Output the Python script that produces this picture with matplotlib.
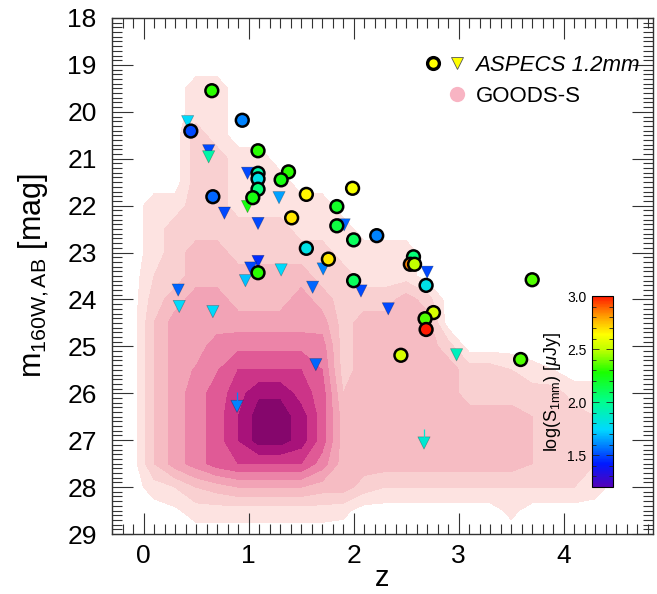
import numpy as np
import matplotlib
matplotlib.use("Agg")
import matplotlib.pyplot as plt
from matplotlib.colors import LinearSegmentedColormap, Normalize
from matplotlib.cm import ScalarMappable
from matplotlib.lines import Line2D
from matplotlib.legend_handler import HandlerTuple
from matplotlib.ticker import MultipleLocator

plt.rcParams["font.family"] = ["Liberation Sans", "DejaVu Sans"]
plt.rcParams["mathtext.fontset"] = "custom"
plt.rcParams["mathtext.rm"] = "Liberation Sans"
plt.rcParams["mathtext.it"] = "Liberation Sans:italic"

# ASPECS 1.2mm detections (circles): redshift, H-band magnitude, log flux [uJy]
det_z = [0.65, 0.45, 0.94, 1.09, 1.38, 1.31, 1.09, 1.09, 1.09, 1.04, 0.66,
         1.55, 1.99, 1.84, 1.84, 2.00, 2.22, 1.41, 1.55, 1.76, 1.09, 2.00,
         2.57, 2.54, 2.58, 2.69, 3.70, 2.76, 2.68, 2.69, 2.45, 3.59]
det_m = [19.55, 20.41, 20.18, 20.83, 21.28, 21.45, 21.31, 21.43, 21.65, 21.83,
         21.81, 21.76, 21.63, 22.02, 22.43, 22.73, 22.64, 22.26, 22.91, 23.14,
         23.43, 23.60, 23.09, 23.25, 23.25, 23.70, 23.58, 24.28, 24.41, 24.64,
         25.19, 25.28]
det_s = [2.30, 1.50, 1.60, 2.30, 2.30, 2.25, 1.95, 1.80, 2.05, 2.25, 1.55,
         2.65, 2.62, 2.20, 2.15, 2.10, 1.60, 2.68, 1.80, 2.68, 2.30, 2.10,
         2.05, 2.85, 2.50, 1.80, 2.35, 2.55, 2.35, 3.00, 2.55, 2.35]

# upper limits (down triangles)
lim_z = [0.42, 0.62, 0.62, 0.99, 1.29, 0.77, 0.99, 1.09, 1.91, 1.09, 1.02,
         0.97, 1.31, 1.71, 1.61, 2.07, 2.33, 0.33, 0.34, 0.66, 2.70, 2.98,
         1.64, 0.89, 2.67]
lim_m = [20.21, 20.83, 20.96, 21.31, 21.83, 22.16, 22.02, 22.38, 22.41, 23.19,
         23.33, 23.60, 23.37, 23.35, 23.74, 23.82, 24.20, 23.80, 24.15, 24.26,
         23.42, 25.18, 25.39, 26.28, 27.06]
lim_s = [1.75, 1.50, 1.95, 1.50, 1.65, 1.50, 2.25, 1.50, 1.55, 1.45, 1.50,
         1.70, 1.75, 1.60, 1.55, 1.50, 1.50, 1.55, 1.75, 1.75, 1.50, 1.90,
         1.55, 1.60, 1.85]
lim_tick = [23, 24]  # triangles drawn with a small bar on top

# GOODS-S density (contour level index) on a z / magnitude grid
grid_z = np.arange(-0.1, 4.75, 0.2)
grid_m = np.arange(19.0, 29.01, 0.5)
density = np.array([
    # c0 .. c24   (z = -0.1 ... 4.7)
    [0, 0, 0, 0, 0, 0, 0, 0, 0, 0, 0, 0, 0, 0, 0, 0, 0, 0, 0, 0, 0, 0, 0, 0, 0],  # 19.0
    [0, 0, 0, 1, 1, 0, 0, 0, 0, 0, 0, 0, 0, 0, 0, 0, 0, 0, 0, 0, 0, 0, 0, 0, 0],  # 19.5
    [0, 0, 0, 1, 1, 0, 0, 0, 0, 0, 0, 0, 0, 0, 0, 0, 0, 0, 0, 0, 0, 0, 0, 0, 0],  # 20.0
    [0, 0, 0, 2, 1, 0, 0, 0, 0, 0, 0, 0, 0, 0, 0, 0, 0, 0, 0, 0, 0, 0, 0, 0, 0],  # 20.5
    [0, 0, 0, 2, 2, 1, 1, 0, 0, 0, 0, 0, 0, 0, 0, 0, 0, 0, 0, 0, 0, 0, 0, 0, 0],  # 21.0
    [0, 0, 0, 2, 2, 1, 1, 1, 0, 0, 0, 0, 0, 0, 0, 0, 0, 0, 0, 0, 0, 0, 0, 0, 0],  # 21.5
    [0, 1, 1, 2, 2, 1, 1, 1, 1, 1, 0, 0, 0, 0, 0, 0, 0, 0, 0, 0, 0, 0, 0, 0, 0],  # 22.0
    [0, 1, 2, 2, 2, 2, 2, 2, 1, 1, 1, 0, 0, 0, 0, 0, 0, 0, 0, 0, 0, 0, 0, 0, 0],  # 22.5
    [0, 1, 2, 3, 3, 2, 2, 2, 2, 2, 1, 1, 1, 1, 0, 0, 0, 0, 0, 0, 0, 0, 0, 0, 0],  # 23.0
    [0, 1.5, 2, 3, 3, 3, 3, 3, 3, 2, 2, 1, 1, 1, 0, 0, 0, 0, 0, 0, 0, 0, 0, 0, 0],  # 23.5
    [0, 2, 3, 4, 4, 3, 3, 3, 4, 3, 2, 2, 2, 3, 2, 0, 0, 0, 0, 0, 0, 0, 0, 0, 0],  # 24.0
    [0, 2.5, 4, 4, 4, 4, 4, 4, 4, 4, 2, 3, 3, 3, 3, 0, 0, 0, 0, 0, 0, 0, 0, 0, 0],  # 24.5
    [0, 2.5, 4, 4, 5, 5.2, 5.2, 5.2, 5.2, 5, 2, 3, 3, 3, 3, 2, 0, 0, 0, 0, 0, 0, 0, 0, 0],  # 25.0
    [0, 2.5, 4, 4.6, 5.4, 6.5, 6.5, 6.5, 6.5, 5.5, 2, 3, 3, 3, 3, 3, 2, 2, 1.5, 0.8, 0.5, 0, 0, 0, 0],  # 25.5
    [0, 2.5, 4, 5, 6, 7, 8.3, 8.3, 7, 6, 2.5, 3, 3, 3, 3, 3, 2, 2, 2, 2, 2, 1, 1, 0, 0],  # 26.0
    [0, 2.5, 4, 5, 6, 7.5, 9, 9, 8, 6, 3, 3, 3, 3, 3, 3, 3, 3, 3, 2.5, 2, 2, 1.5, 0, 0],  # 26.5
    [0, 2.5, 4, 5, 6, 7.5, 9, 9, 8, 6, 3, 3, 3, 3, 3, 3, 3, 3, 3, 2.5, 2, 2, 1.5, 0, 0],  # 27.0
    [0, 2.5, 4, 5, 6, 6.5, 6.5, 6.5, 6.5, 5, 3, 3, 3, 3, 3, 3, 3, 3, 3, 2.5, 2, 2, 1.5, 0, 0],  # 27.5
    [0, 1, 1.5, 2.5, 3, 3.5, 3.5, 3.5, 3.5, 3, 3, 2, 1.5, 1.5, 1.5, 1.5, 1.5, 1.5, 1.5, 1.5, 1.5, 1.5, 1, 0, 0],  # 28.0
    [0, 0, 0.3, 1, 1, 1, 1, 1, 1, 1, 0.8, 0, 0, 0, 0, 0, 0, 0, 0.8, 0, 0, 0, 0, 0, 0],  # 28.5
    [0, 0, 0, 0, 0, 0, 0, 0, 0, 0, 0, 0, 0, 0, 0, 0, 0, 0, 0, 0, 0, 0, 0, 0, 0],  # 29.0
])
density_levels = np.arange(0.5, 9.6, 1.0)
density_colors = ["#fde3e1", "#f9d0d1", "#f6bcc3", "#f2a3b6", "#ec84a8",
                  "#e05a96", "#cc3488", "#a8127a", "#85066c"]

# flux colour scale
flux_min, flux_max = 1.2, 3.0
flux_cmap = LinearSegmentedColormap.from_list("aspecs", [
    (0.00, (0.33, 0.00, 0.72)),
    (0.12, (0.00, 0.10, 1.00)),
    (0.30, (0.00, 0.85, 1.00)),
    (0.45, (0.00, 1.00, 0.55)),
    (0.60, (0.10, 1.00, 0.00)),
    (0.72, (0.75, 1.00, 0.00)),
    (0.80, (1.00, 1.00, 0.00)),
    (0.90, (1.00, 0.60, 0.00)),
    (1.00, (1.00, 0.10, 0.00)),
])
norm = Normalize(flux_min, flux_max)

fig = plt.figure(figsize=(6.57, 5.94), dpi=100)
ax = fig.add_axes([0.1705, 0.101, 0.8234, 0.8687])

ax.contourf(grid_z, grid_m, density, levels=density_levels,
            colors=density_colors, zorder=1)

ax.scatter(lim_z, lim_m, c=lim_s, cmap=flux_cmap, norm=norm, marker="v",
           s=78, edgecolors=(0, 0, 0, 0.3), linewidths=0.5, zorder=3)
tick_z = [lim_z[i] for i in lim_tick]
tick_m = [lim_m[i] for i in lim_tick]
tick_c = [flux_cmap(norm(lim_s[i])) for i in lim_tick]
ax.vlines(tick_z, [m - 0.3 for m in tick_m], tick_m, colors=tick_c,
          linewidth=0.9, zorder=3)
ax.scatter(det_z, det_m, c=det_s, cmap=flux_cmap, norm=norm, marker="o",
           s=85, edgecolors="black", linewidths=1.8, zorder=4)

ax.set_xlim(-0.3, 4.85)
ax.set_ylim(29, 18)
ax.xaxis.set_major_locator(MultipleLocator(1))
ax.xaxis.set_minor_locator(MultipleLocator(0.1))
ax.yaxis.set_major_locator(MultipleLocator(1))
ax.yaxis.set_minor_locator(MultipleLocator(0.1))
ax.tick_params(which="both", direction="in", top=True, right=True,
               width=0.8, color="#333333")
ax.tick_params(which="major", length=15, labelsize=19)
ax.tick_params(axis="x", which="major", pad=7)
ax.tick_params(axis="y", which="major", pad=11)
ax.tick_params(which="minor", length=7)
for sp in ax.spines.values():
    sp.set_linewidth(1.0)
    sp.set_color("#333333")
ax.set_xlabel("z", fontsize=21, labelpad=-3)
ax.set_ylabel(r"m$_{\rm 160W,AB}$ [mag]", fontsize=22, labelpad=12)

# legend
aspecs_circle = Line2D([], [], ls="none", marker="o", markersize=8.5,
                       markerfacecolor="#ffff00", markeredgecolor="black",
                       markeredgewidth=2.4)
aspecs_tri = Line2D([], [], ls="none", marker="v", markersize=9,
                    markerfacecolor="#ffff00", markeredgecolor="#555555",
                    markeredgewidth=0.6)
blank = Line2D([], [], ls="none", marker="none")
goods = Line2D([], [], ls="none", marker="o", markersize=11,
               markerfacecolor="#f8b4c3", markeredgecolor="none")
leg = ax.legend([(aspecs_circle, aspecs_tri), (blank, goods)],
                ["ASPECS 1.2mm", "GOODS-S"],
                handler_map={tuple: HandlerTuple(ndivide=None, pad=0)},
                loc="upper left", bbox_to_anchor=(0.571, 0.928),
                frameon=False, fontsize=16, handlelength=2.16,
                handletextpad=0.3, labelspacing=0.45, borderpad=0,
                borderaxespad=0)
leg.get_texts()[0].set_fontstyle("italic")

# colour bar inside the axes
cax = ax.inset_axes([0.887, 0.091, 0.039, 0.370])
cb = fig.colorbar(ScalarMappable(norm=norm, cmap=flux_cmap), cax=cax)
cb.set_ticks([1.5, 2.0, 2.5, 3.0])
cb.ax.yaxis.set_minor_locator(MultipleLocator(0.1))
cb.ax.tick_params(which="both", direction="in", left=True, right=True,
                  labelleft=True, labelright=False, color="#222222", width=0.6)
cb.ax.tick_params(which="major", length=5, labelsize=10, pad=4)
cb.ax.tick_params(which="minor", length=3)
cb.outline.set_linewidth(0.8)
cb.ax.yaxis.set_label_position("left")
cb.set_label(r"log(S$_{\rm 1mm}$) [$\mu$Jy]", fontsize=13, labelpad=3)

fig.savefig("out.png", dpi=100)
